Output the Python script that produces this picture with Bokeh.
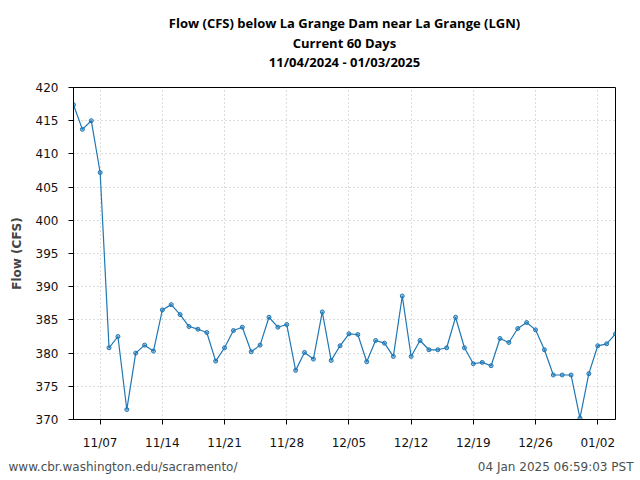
import pandas as pd
from bokeh.plotting import figure
from bokeh.models import FixedTicker, DatetimeTickFormatter, Range1d
from bokeh.layouts import column
from bokeh.core.properties import value
from bokeh.embed import file_html
from bokeh.resources import INLINE

start_date = "2024-11-04"
flow_cfs = [417.4, 413.7, 415.0, 407.2, 380.8, 382.5, 371.5, 380.0, 381.2, 380.3,
            386.5, 387.3, 385.8, 384.0, 383.6, 383.1, 378.8, 380.8, 383.4, 383.9,
            380.2, 381.2, 385.4, 383.9, 384.3, 377.4, 380.1, 379.1, 386.2, 378.9,
            381.1, 382.9, 382.8, 378.7, 381.9, 381.5, 379.5, 388.6, 379.5, 381.9,
            380.5, 380.5, 380.8, 385.4, 380.8, 378.4, 378.6, 378.1, 382.2, 381.6,
            383.7, 384.6, 383.5, 380.5, 376.7, 376.7, 376.7, 370.2, 376.9, 381.1,
            381.4, 382.9]
tick_dates = ["2024-11-07", "2024-11-14", "2024-11-21", "2024-11-28", "2024-12-05",
              "2024-12-12", "2024-12-19", "2024-12-26", "2025-01-02"]
y_ticks = [370, 375, 380, 385, 390, 395, 400, 405, 410, 415, 420]
title_lines = ["Flow (CFS) below La Grange Dam near La Grange (LGN)",
               "Current 60 Days",
               "11/04/2024 - 01/03/2025"]
footer_left = "www.cbr.washington.edu/sacramento/"
footer_right = "04 Jan 2025 06:59:03 PST"

dates = pd.date_range(start_date, periods=len(flow_cfs), freq="D")

FONT = "DejaVu Sans"
TITLE_FONT = "Open Sans"
COLOR = "#1f77b4"

# header strip with the three title lines
h = figure(width=640, height=80, output_backend="svg", toolbar_location=None,
           x_range=Range1d(0, 640), y_range=Range1d(0, 80),
           min_border=0, outline_line_color=None)
h.frame_align = False
h.axis.visible = False
h.grid.visible = False
h.text(x=[344, 344, 344], y=[58, 38, 19], text=title_lines, text_align="center",
       text_baseline="middle", text_font=value(TITLE_FONT), text_font_size="13px",
       text_font_style="bold", text_color="black")

p = figure(frame_width=542, frame_height=332, x_axis_type="datetime",
           output_backend="svg", toolbar_location=None,
           min_border_left=73, min_border_right=25, min_border_top=7,
           min_border_bottom=36)
p.frame_align = False
p.x_range = Range1d(dates[0], dates[-1])
p.y_range = Range1d(370, 420)

p.line(dates, flow_cfs, line_color=COLOR, line_width=1.2)
p.scatter(dates, flow_cfs, marker="circle", size=4, line_color=COLOR,
          fill_color=COLOR, fill_alpha=0.45, line_width=1)

tick_ms = [pd.Timestamp(d).timestamp() * 1000 for d in tick_dates]
p.xaxis.ticker = FixedTicker(ticks=tick_ms)
fmt = "%m/%d"
p.xaxis.formatter = DatetimeTickFormatter(milliseconds=fmt, seconds=fmt, minsec=fmt,
                                          minutes=fmt, hourmin=fmt, hours=fmt,
                                          days=fmt, months=fmt, years=fmt)
p.yaxis.ticker = FixedTicker(ticks=y_ticks)
p.yaxis.axis_label = "Flow (CFS)"

for ax in (p.xaxis, p.yaxis):
    ax.major_label_text_font = FONT
    ax.major_label_text_font_size = "12px"
    ax.major_label_text_color = "#111111"
    ax.axis_label_text_font = FONT
    ax.axis_label_text_font_size = "12px"
    ax.axis_label_text_font_style = "bold"
    ax.axis_line_color = "black"
    ax.major_tick_line_color = "black"
    ax.major_tick_out = 5
    ax.major_tick_in = 0
    ax.minor_tick_line_color = None
p.xaxis.major_label_standoff = 11
p.yaxis.major_label_standoff = 10
p.yaxis.axis_label_standoff = 9

p.outline_line_color = "black"
p.outline_line_width = 1
for g in (p.xgrid, p.ygrid):
    g.grid_line_color = "#bbbbbb"
    g.grid_line_dash = "1 3"
    g.grid_line_width = 1

# footer strip
f = figure(width=640, height=25, output_backend="svg", toolbar_location=None,
           x_range=Range1d(0, 640), y_range=Range1d(0, 25),
           min_border=0, outline_line_color=None)
f.frame_align = False
f.axis.visible = False
f.grid.visible = False
f.text(x=[8], y=[14], text=[footer_left], text_align="left",
       text_baseline="middle", text_font=value(FONT), text_font_size="12px",
       text_color="#4a5050")
f.text(x=[633], y=[14], text=[footer_right], text_align="right",
       text_baseline="middle", text_font=value(FONT), text_font_size="12px",
       text_color="#4a5050")

layout = column(h, p, f, spacing=0)
open("out.html", "w").write(file_html(layout, INLINE))
